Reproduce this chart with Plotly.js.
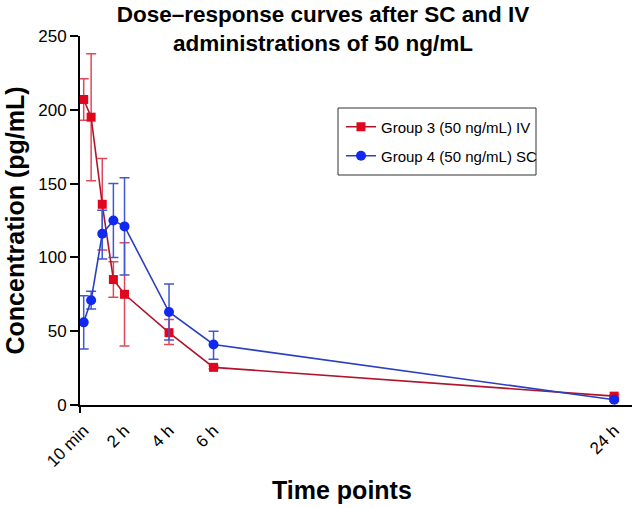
<!DOCTYPE html>
<html>
<head>
<meta charset="utf-8">
<script src="https://cdn.plot.ly/plotly-3.0.1.min.js"></script>
<style>html,body{margin:0;padding:0;background:#fff;}#chart{width:636px;height:508px;}</style>
</head>
<body>
<div id="chart"></div>
<script>
// Time in hours: 10 min, 30 min, 1 h, 1.5 h, 2 h, 4 h, 6 h, 24 h
const timeHours = [0.1667, 0.5, 1, 1.5, 2, 4, 6, 24];
const ivMean = [207, 195, 136, 85, 75, 49, 25.5, 6];
const ivErrPlus = [14, 43, 31, 12, 35, 9, 1, 1];
const ivErrMinus = [14, 43, 31, 12, 35, 8, 1, 1];
const scMean = [56, 71, 116, 125, 121, 63, 41, 3.5];
const scErrPlus = [18, 6, 16, 25, 33, 19, 9, 1];
const scErrMinus = [18, 6, 17, 25, 33, 19, 10, 1];
const xTickVals = [0.1667, 2, 4, 6, 24];
const xTickText = ['10 min', '2 h', '4 h', '6 h', '24 h'];
const yTickVals = [0, 50, 100, 150, 200, 250];
const seriesNames = ['Group 3 (50 ng/mL) IV', 'Group 4 (50 ng/mL) SC'];

const font = 'Arial, "Liberation Sans", Helvetica, sans-serif';

const traces = [
  {
    x: timeHours, y: ivMean, name: seriesNames[0], type: 'scatter', mode: 'lines+markers',
    legend: 'legend',
    line: {color: '#b0142a', width: 1.6},
    marker: {symbol: 'square', size: 9, color: '#e0061e'},
    error_y: {type: 'data', symmetric: false, array: ivErrPlus, arrayminus: ivErrMinus,
      color: '#e0485a', thickness: 1.5, width: 5}
  },
  {
    x: timeHours, y: scMean, name: seriesNames[1], type: 'scatter', mode: 'lines+markers',
    legend: 'legend2',
    line: {color: '#2a40c0', width: 1.6},
    marker: {symbol: 'circle', size: 10, color: '#1028f0'},
    error_y: {type: 'data', symmetric: false, array: scErrPlus, arrayminus: scErrMinus,
      color: '#4058d0', thickness: 1.5, width: 5}
  }
];

const legendCommon = {
  xanchor: 'left', yanchor: 'middle', bgcolor: 'rgba(0,0,0,0)', borderwidth: 0,
  font: {family: font, size: 15, color: '#000'}
};

const layout = {
  width: 636, height: 508,
  margin: {l: 80, r: 4, t: 36, b: 103},
  paper_bgcolor: '#fff', plot_bgcolor: '#fff',
  font: {family: font, color: '#000', size: 16},
  title: {
    text: '<b>Dose–response curves after SC and IV<br>administrations of 50 ng/mL</b>',
    font: {family: font, size: 22.5, color: '#000'},
    x: 323 / 636, xanchor: 'center', yref: 'container', y: 0.957, yanchor: 'middle'
  },
  xaxis: {
    range: [0, 24.8], tickvals: xTickVals, ticktext: xTickText, tickangle: -45,
    showline: true, linecolor: '#000', linewidth: 2, showgrid: false, zeroline: false,
    ticks: 'outside', ticklen: 7, tickwidth: 1, tickcolor: 'rgba(0,0,0,0)',
    tickfont: {family: font, size: 17, color: '#000'}
  },
  yaxis: {
    range: [0, 250], tickvals: yTickVals,
    showline: true, linecolor: '#000', linewidth: 2, showgrid: false, zeroline: false,
    ticks: 'outside', ticklen: 8, tickwidth: 2, tickcolor: '#000',
    tickfont: {family: font, size: 17, color: '#000'},
    title: {text: '<b>Concentration (pg/mL)</b>', font: {family: font, size: 25, color: '#000'}, standoff: 6}
  },
  annotations: [
    {text: '<b>Time points</b>', xref: 'paper', yref: 'paper',
     x: (342 - 80) / 552, y: (405 - 490) / 369, xanchor: 'center', yanchor: 'middle',
     showarrow: false, font: {family: font, size: 25, color: '#000'}}
  ],
  shapes: [
    {type: 'rect', xref: 'paper', yref: 'paper',
     x0: (338 - 80) / 552, x1: (536 - 80) / 552, y0: (405 - 175) / 369, y1: (405 - 108) / 369,
     line: {color: '#333', width: 1}, fillcolor: 'rgba(0,0,0,0)'},
    {type: 'line', xref: 'paper', yref: 'paper', x0: 0, x1: 0, y0: 0, y1: -8 / 369,
     line: {color: '#000', width: 2}}
  ],
  legend: Object.assign({x: (341 - 80) / 552, y: (405 - 127) / 369}, legendCommon),
  legend2: Object.assign({x: (341 - 80) / 552, y: (405 - 156) / 369}, legendCommon),
  showlegend: true
};

Plotly.newPlot('chart', traces, layout, {displayModeBar: false, staticPlot: true});
</script>
</body>
</html>
